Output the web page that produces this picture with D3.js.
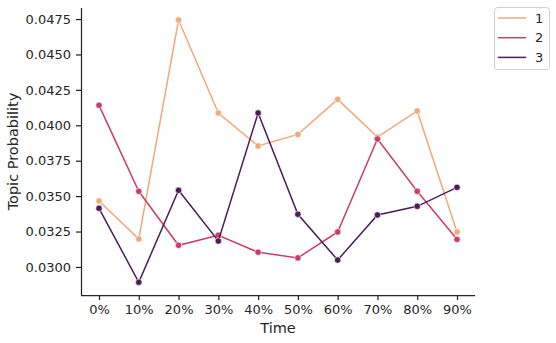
<!DOCTYPE html>
<html><head><meta charset="utf-8">
<script src="https://cdn.jsdelivr.net/npm/d3@7"></script>
<style>body{margin:0;background:#fff}svg{display:block;font-family:"DejaVu Sans",sans-serif}</style>
</head><body><svg id="c" width="556" height="343"></svg>
<script>
const categories = ["0%","10%","20%","30%","40%","50%","60%","70%","80%","90%"];
const seriesNames = ["1","2","3"];
const series1 = [0.03466,0.03198,0.04743,0.04087,0.03854,0.03936,0.04183,0.03917,0.04101,0.03247];
const series2 = [0.04141,0.03534,0.03153,0.03224,0.03104,0.03064,0.03247,0.03903,0.03534,0.03195];
const series3 = [0.03414,0.02892,0.03541,0.03183,0.04087,0.03372,0.03049,0.03367,0.03428,0.03562];
const yTicks = [0.0300,0.0325,0.0350,0.0375,0.0400,0.0425,0.0450,0.0475];
const colors = ["#eeaa7b","#c83e67","#4d1d5a"];
const allSeries = [series1,series2,series3];

const svg = d3.select("#c");
const L=81, R=475, T=8, B=295;
const x = d3.scalePoint().domain(categories).range([99,457]);
const y = d3.scaleLinear().domain([0.02802,0.04828]).range([B,T]);
const txt="#262626";

const gx = svg.append("g").attr("transform",`translate(0,${B})`)
  .call(d3.axisBottom(x).tickSize(5).tickPadding(5));
gx.select(".domain").attr("d",`M${L},0.5H${R}`);
const gy = svg.append("g").attr("transform",`translate(${L},0)`)
  .call(d3.axisLeft(y).tickValues(yTicks).tickFormat(d3.format(".4f")).tickSize(5).tickPadding(5));
gy.select(".domain").attr("d",`M0.5,${T}V${B}`);
[gx,gy].forEach(g=>{
  g.selectAll(".domain").attr("stroke",txt).attr("stroke-width",1.25);
  g.selectAll(".tick line").attr("stroke",txt).attr("stroke-width",1.25);
  g.selectAll(".tick text").attr("fill",txt).style("font-size","13px").style("font-family","DejaVu Sans");
});

svg.append("text").attr("x",(L+R)/2).attr("y",333).attr("text-anchor","middle")
  .attr("fill",txt).style("font-size","14.5px").text("Time");
svg.append("text").attr("transform",`translate(18,${(T+B)/2}) rotate(-90)`).attr("text-anchor","middle")
  .attr("fill",txt).style("font-size","14.5px").text("Topic Probability");

const line = d3.line().x((d,i)=>x(categories[i])).y(d=>y(d));
allSeries.forEach((s,k)=>{
  svg.append("path").datum(s).attr("d",line).attr("fill","none")
    .attr("stroke",colors[k]).attr("stroke-width",1.5);
  svg.append("g").selectAll("circle").data(s).join("circle")
    .attr("cx",(d,i)=>x(categories[i])).attr("cy",d=>y(d)).attr("r",3.2)
    .attr("fill",colors[k]).attr("stroke","#fff").attr("stroke-width",0.6);
});

const lg = svg.append("g");
lg.append("rect").attr("x",494.5).attr("y",7.5).attr("width",55).attr("height",62).attr("rx",3)
  .attr("fill","#fff").attr("stroke","#d0d0d0").attr("stroke-width",1);
seriesNames.forEach((n,k)=>{
  const yy = 18 + k*19.7;
  lg.append("line").attr("x1",498).attr("x2",526).attr("y1",yy).attr("y2",yy)
    .attr("stroke",colors[k]).attr("stroke-width",1.5);
  lg.append("text").attr("x",535).attr("y",yy+4.5).attr("fill",txt).style("font-size","13px").text(n);
});
</script></body></html>
